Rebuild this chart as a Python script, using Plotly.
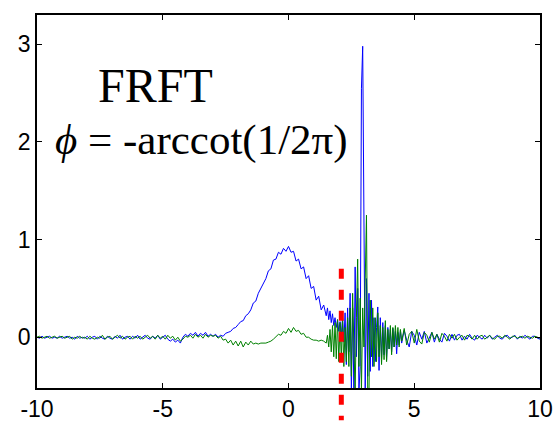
import numpy as np
import plotly.graph_objects as go

# ---- sample positions (three segments) ----
x_seg_a = np.round(np.arange(-10.0, 1.45, 0.1), 2)   # 115 pts
x_seg_b = np.round(np.arange(1.5, 4.475, 0.05), 2)   # 60 pts
x_seg_c = np.round(np.arange(4.5, 10.05, 0.1), 2)    # 56 pts

# ---- blue series ----
blue_a = [
    0.00, -0.01, 0.01, -0.01, 0.00, 0.01, -0.01, 0.00, -0.01, 0.01,
    -0.01, 0.00, 0.01, -0.01, 0.00, -0.02, 0.01, -0.01, 0.00, -0.01,
    0.01, -0.02, 0.00, 0.01, -0.02, 0.01, -0.01, -0.02, 0.01, -0.01,
    -0.02, 0.01, -0.01, 0.02, -0.02, 0.00, 0.01, -0.02, 0.01, -0.01,
    0.02, -0.02, 0.00, 0.02, -0.01, -0.02, 0.01, -0.01, 0.02, -0.02,
    0.00, 0.02, -0.02, -0.04, -0.02, -0.05, -0.03, -0.06, 0.00, 0.03,
    0.01, 0.04, 0.02, 0.05, 0.01, 0.04, 0.02, 0.05, 0.01, 0.03,
    0.01, 0.03, 0.00, 0.02, 0.01, 0.04, 0.05, 0.06, 0.09, 0.10,
    0.13, 0.16, 0.17, 0.22, 0.24, 0.28, 0.35, 0.37, 0.45, 0.50,
    0.55, 0.60, 0.68, 0.70, 0.79, 0.80, 0.87, 0.85, 0.91, 0.88,
    0.93, 0.87, 0.88, 0.78, 0.80, 0.70, 0.72, 0.60, 0.63, 0.50,
    0.52, 0.38, 0.42, 0.28, 0.33,
]
blue_b = [
    0.22, 0.30, 0.18, 0.27, 0.15, 0.24, 0.12, 0.20, 0.10, 0.18,
    0.06, 0.16, 0.02, 0.20, -0.05, 0.25, -0.28, 0.30, -0.15, 0.45,
    -0.55, 0.30, -0.55, 0.72, -0.20, 0.50, -0.55, -0.30, 2.55, 2.98,
    1.20, -0.55, 0.60, -0.40, 0.45, -0.35, 0.38, -0.30, 0.20, -0.25,
    0.10, 0.31, -0.34, 0.20, -0.22, 0.15, -0.18, 0.12, -0.23, 0.10,
    -0.12, 0.08, -0.15, 0.09, -0.10, 0.06, -0.17, 0.05, -0.08, 0.07,
]
blue_c = [
    -0.06, 0.07, -0.03, -0.10, 0.06, 0.02, -0.08, 0.05, -0.02, 0.06,
    -0.06, 0.00, 0.05, -0.05, 0.03, -0.02, -0.05, 0.04, 0.01, -0.04,
    0.03, -0.03, 0.02, 0.03, -0.03, 0.01, -0.02, 0.03, -0.01, -0.03,
    0.02, 0.00, -0.02, 0.02, -0.01, 0.02, -0.02, 0.00, 0.02, -0.01,
    -0.02, 0.01, 0.02, -0.01, 0.00, 0.02, -0.02, 0.01, -0.01, 0.02,
    0.00, -0.02, 0.01, 0.01, -0.01, -0.02,
]

# ---- green series ----
green_a = [
    0.00, 0.01, -0.01, 0.00, 0.01, -0.01, 0.00, 0.01, -0.01, 0.00,
    0.01, -0.01, 0.00, 0.01, -0.02, 0.00, -0.01, 0.01, -0.01, 0.00,
    -0.02, 0.01, -0.01, -0.02, 0.00, -0.01, 0.02, -0.02, 0.00, 0.01,
    -0.02, 0.00, 0.02, -0.01, 0.01, -0.02, 0.00, 0.01, -0.02, 0.01,
    -0.01, 0.01, -0.02, 0.00, 0.02, -0.01, 0.01, -0.02, 0.02, -0.01,
    0.01, -0.02, 0.02, -0.01, 0.01, -0.03, 0.00, -0.04, -0.02, 0.01,
    0.00, 0.02, -0.01, 0.03, 0.00, 0.02, -0.01, 0.03, 0.00, 0.02,
    0.01, 0.02, -0.01, 0.01, -0.03, -0.02, -0.06, -0.03, -0.08, -0.04,
    -0.09, -0.04, -0.10, -0.05, -0.08, -0.04, -0.07, -0.06, -0.07, -0.06,
    -0.06, -0.06, -0.05, -0.04, -0.02, 0.01, 0.03, 0.02, 0.06, 0.04,
    0.09, 0.05, 0.10, 0.06, 0.07, 0.03, 0.04, 0.00, 0.00, -0.02,
    -0.03, -0.03, -0.04, -0.03, -0.04,
]
green_b = [
    -0.06, 0.02, -0.10, 0.08, -0.15, 0.12, -0.20, 0.15, -0.22, 0.18,
    -0.25, 0.15, -0.22, 0.18, -0.30, 0.10, -0.25, 0.20, -0.30, 0.30,
    -0.40, 0.45, -0.10, -0.55, 0.20, 0.80, -0.30, 0.40, -0.55, 0.30,
    -0.10, 0.60, 1.25, -0.55, -0.55, 0.38, -0.20, 0.30, -0.30, 0.20,
    -0.25, 0.25, -0.20, 0.12, -0.28, 0.10, -0.23, 0.17, -0.25, 0.08,
    -0.12, 0.12, -0.18, 0.10, -0.10, 0.12, -0.08, 0.10, -0.10, 0.08,
]
green_c = [
    -0.04, 0.09, -0.08, 0.03, 0.06, -0.06, 0.08, -0.04, -0.07, 0.05,
    0.02, -0.05, 0.05, -0.02, 0.03, -0.05, 0.04, 0.01, -0.04, 0.03,
    -0.01, 0.03, -0.03, 0.00, 0.02, -0.03, 0.02, 0.01, -0.02, 0.02,
    -0.02, 0.01, 0.02, -0.02, 0.00, 0.02, -0.01, -0.02, 0.01, 0.01,
    -0.01, 0.02, 0.00, -0.02, 0.01, 0.01, -0.01, 0.00, 0.01, -0.01,
    0.01, 0.00, -0.01, 0.01, 0.00, -0.01,
]

# ---- marker line / axes ----
cut_x = 2.1
cut_top, cut_bottom = 0.70, -0.85
x_range = [-10, 10]
y_range = [-0.52, 3.3]
x_ticks = [-10, -5, 0, 5, 10]
x_ticklabels = ["-10", "-5", "0", "5", "10"]
y_ticks = [0, 1, 2, 3]
y_ticklabels = ["0", "1", "2", "3"]

x_all = np.concatenate([x_seg_a, x_seg_b, x_seg_c])
blue = np.array(blue_a + blue_b + blue_c)
green = np.array(green_a + green_b + green_c)

fig = go.Figure()
fig.add_trace(go.Scatter(x=x_all, y=blue, mode="lines",
                         line=dict(color="#0000ff", width=1), showlegend=False))
fig.add_trace(go.Scatter(x=x_all, y=green, mode="lines",
                         line=dict(color="#008000", width=1), showlegend=False))

def to_px(v, r):
    return (v - r[0]) / (r[1] - r[0])

fig.add_shape(type="line", xref="paper", yref="paper",
              x0=to_px(cut_x, x_range), x1=to_px(cut_x, x_range),
              y0=to_px(cut_top, y_range), y1=to_px(cut_bottom, y_range),
              line=dict(color="#ff0000", width=5, dash="10px,11px"), layer="above")

fig.add_annotation(text="FRFT", xref="paper", yref="paper", x=0.235, y=0.81,
                   xanchor="center", yanchor="middle", showarrow=False,
                   font=dict(family="Liberation Serif", size=48, color="black"))
fig.add_annotation(text="<i>ϕ</i> = -arccot(1/2π)", xref="paper", yref="paper",
                   x=0.032, y=0.665, xanchor="left", yanchor="middle", showarrow=False,
                   font=dict(family="Liberation Serif", size=43, color="black"))

axis_common = dict(showgrid=False, zeroline=False, showline=True, linecolor="black",
                   linewidth=1.5, mirror="allticks", ticks="inside", ticklen=5,
                   tickcolor="black", tickwidth=1, automargin=False,
                   tickfont=dict(family="Liberation Sans, Arial", size=23, color="black"))
fig.update_xaxes(range=x_range, tickvals=x_ticks, ticktext=x_ticklabels, **axis_common)
fig.update_yaxes(range=y_range, tickvals=y_ticks, ticktext=y_ticklabels, **axis_common)

fig.update_layout(width=553, height=424, plot_bgcolor="white", paper_bgcolor="white",
                  margin=dict(l=37, r=13, t=15, b=36))
fig.write_html("out.html")
